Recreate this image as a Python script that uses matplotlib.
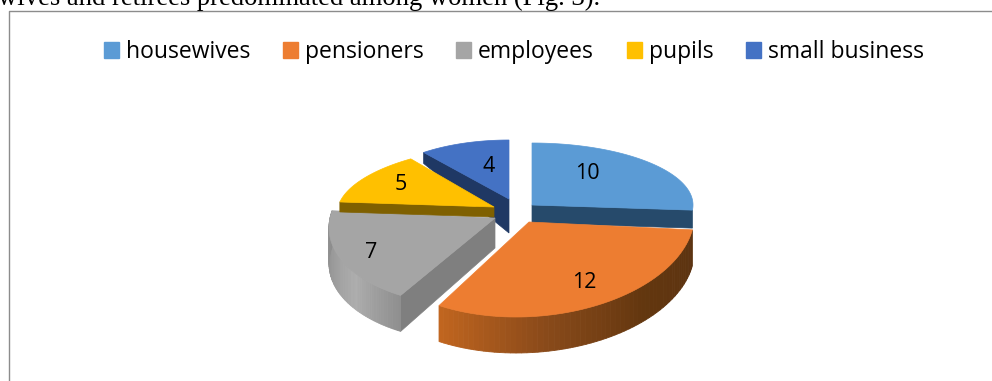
import numpy as np
import matplotlib
matplotlib.use('Agg')
import matplotlib.pyplot as plt
from matplotlib.colors import to_rgb
from matplotlib.patches import Patch

# data
categories = ['housewives', 'pensioners', 'employees', 'pupils', 'small business']
values = [10, 12, 7, 5, 4]
caption = 'wives and retirees predominated among women (Fig. 3).'

# colours
top_colors = ['#5b9bd5', '#ed7d31', '#a5a5a5', '#ffc000', '#4472c4']
cut_colors = ['#264a6b', None, '#7f7f7f', '#7f6000', '#1f3864']
rim_shades = [None, ['#5c3311', '#63370f', '#8a4a1a', '#c0651f'], ['#8f8f8f', '#adadad', '#9a9a9a', '#8d8d8d'], None, None]

# each exploded slice has its own centre and size, the pie is drawn in perspective
cx = [532, 529, 495, 494, 509]
cy = [205, 222, 218, 207, 199]
rx = [161, 165, 165, 156, 139]
ry = [62, 95, 88, 61, 59]
shear = [0, 13, 18, 16, 0]
depth_apex = [18, 36, 30, 10, 34]
depth_rim = [18, 36, 36, 10, 11]
cut_side = ['end', None, 'start', 'start', 'start']
draw_order = [0, 4, 2, 3, 1]
label_x = [587, 584, 371, 401, 489]
label_y = [173.5, 282.5, 253, 184.5, 166]

fig = plt.figure(figsize=(9.92, 3.81), dpi=100)
ax = fig.add_axes([0, 0, 1, 1])
ax.set_xlim(0, 992)
ax.set_ylim(381, 0)
ax.axis('off')

# angles go clockwise from 12 o'clock
edges = 90 - 360 * np.concatenate([[0], np.cumsum(values)]) / np.sum(values)


def rim(i, deg):
    t = np.radians(deg)
    x = cx[i] + rx[i] * np.cos(t) + shear[i] * np.sin(t)
    y = cy[i] - ry[i] * np.sin(t)
    return x, y


for i in draw_order:
    start, end = edges[i], edges[i + 1]
    # cut face
    if cut_side[i]:
        x, y = rim(i, start if cut_side[i] == 'start' else end)
        ax.fill([cx[i], x, x, cx[i]],
                [cy[i], y, y + depth_rim[i], cy[i] + depth_apex[i]],
                color=cut_colors[i], lw=0.5)
    # outer wall with a shade along the arc
    if rim_shades[i]:
        stops = np.array([to_rgb(c) for c in rim_shades[i]])
        ts = np.linspace(start, end, 61)
        pos = np.linspace(0, 1, 60)
        for k in range(60):
            x0, y0 = rim(i, ts[k])
            x1, y1 = rim(i, ts[k + 1])
            shade = [np.interp(pos[k], np.linspace(0, 1, len(stops)), stops[:, c]) for c in range(3)]
            ax.fill([x0, x1, x1, x0], [y0, y1, y1 + depth_rim[i], y0 + depth_rim[i]],
                    color=shade, lw=0.6)
    # top face
    ts = np.linspace(start, end, 80)
    xs, ys = rim(i, ts)
    ax.fill(np.r_[cx[i], xs], np.r_[cy[i], ys], color=top_colors[i], lw=0.5)

for i, v in enumerate(values):
    ax.text(label_x[i], label_y[i], str(v), ha='center', va='center',
            fontsize=15.5, family='Open Sans', color='black')

# frame of the chart, cut by the page
ax.plot([8.5, 8.5, 992], [381, 10.5, 10.5], color='#8c8c8c', lw=1)
ax.text(-2, 5, caption, family='Liberation Serif', fontsize=19.15, color='black',
        ha='left', va='baseline', clip_on=False)

handles = [Patch(color=c, label=n) for c, n in zip(top_colors, categories)]
ax.legend(handles=handles, ncol=5, loc='center', bbox_to_anchor=(514, 52),
          bbox_transform=ax.transData, frameon=False,
          prop={'family': 'Open Sans', 'size': 16.5},
          handlelength=0.65, handleheight=0.65, handletextpad=0.3, columnspacing=1.44)

fig.savefig('out.png', dpi=100)
